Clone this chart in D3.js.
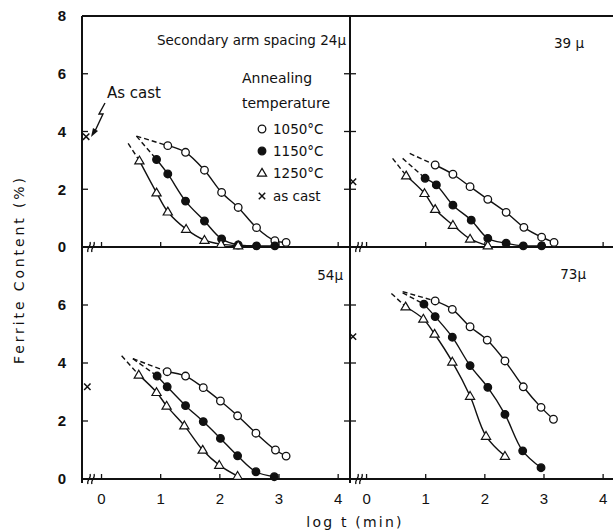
<!DOCTYPE html>
<html>
<head>
<meta charset="utf-8">
<script src="https://cdn.jsdelivr.net/npm/d3@7"></script>
<style>
  body { margin: 0; background: #fff; }
  text { font-family: "DejaVu Sans", sans-serif; fill: #111; }
  text.num { font-family: "Liberation Sans", Arial, sans-serif; }
</style>
</head>
<body>
<div id="chart"></div>
<script>
// tick labels
const xTicks = [0, 1, 2, 3, 4];
const yTicks = [0, 2, 4, 6, 8];

// panel labels (secondary arm spacing)
const panelLabels = ["Secondary arm spacing 24\u03bc", "39 \u03bc", "54\u03bc", "73\u03bc"];

// legend
const legendNames = ["1050\u00b0C", "1150\u00b0C", "1250\u00b0C", "as cast"];

// [log t, ferrite %]
const s24_1050 = [[1.12, 3.51], [1.42, 3.28], [1.74, 2.66], [2.03, 1.89], [2.31, 1.37], [2.62, 0.67], [2.93, 0.22], [3.12, 0.16]];
const s24_1150 = [[0.93, 3.03], [1.12, 2.53], [1.42, 1.59], [1.74, 0.90], [2.03, 0.28], [2.31, 0.07], [2.62, 0.04], [2.93, 0.04]];
const s24_1250 = [[0.64, 2.99], [0.93, 1.88], [1.12, 1.22], [1.43, 0.62], [1.74, 0.24], [2.02, 0.10], [2.31, 0.05]];
const s24_start = [[0.59, 3.84], [0.59, 3.84], [0.45, 3.59]];
const s24_cast = [-0.26, 3.82];

const s39_1050 = [[1.16, 2.84], [1.46, 2.52], [1.75, 2.09], [2.05, 1.65], [2.36, 1.20], [2.66, 0.68], [2.96, 0.34], [3.17, 0.16]];
const s39_1150 = [[0.99, 2.38], [1.18, 2.15], [1.46, 1.45], [1.77, 0.93], [2.05, 0.30], [2.36, 0.13], [2.65, 0.04], [2.96, 0.04]];
const s39_1250 = [[0.67, 2.47], [0.98, 1.86], [1.16, 1.31], [1.46, 0.76], [1.75, 0.28], [2.05, 0.05]];
const s39_start = [[0.73, 3.24], [0.61, 3.07], [0.44, 3.07]];
const s39_cast = [-0.23, 2.26];

const s54_1050 = [[1.11, 3.70], [1.42, 3.55], [1.72, 3.15], [2.01, 2.69], [2.30, 2.18], [2.61, 1.58], [2.94, 1.00], [3.12, 0.79]];
const s54_1150 = [[0.94, 3.55], [1.11, 3.18], [1.42, 2.53], [1.72, 1.98], [2.01, 1.40], [2.30, 0.80], [2.61, 0.25], [2.92, 0.08]];
const s54_1250 = [[0.63, 3.59], [0.93, 2.99], [1.10, 2.52], [1.40, 1.84], [1.71, 1.00], [1.99, 0.48], [2.30, 0.10]];
const s54_start = [[0.53, 4.15], [0.53, 4.15], [0.34, 4.25]];
const s54_cast = [-0.24, 3.18];

const s73_1050 = [[1.16, 6.14], [1.45, 5.85], [1.75, 5.25], [2.04, 4.79], [2.34, 4.07], [2.65, 3.18], [2.95, 2.47], [3.16, 2.06]];
const s73_1150 = [[0.97, 6.03], [1.16, 5.60], [1.45, 4.89], [1.75, 3.91], [2.05, 3.16], [2.34, 2.23], [2.64, 0.97], [2.95, 0.39]];
const s73_1250 = [[0.66, 5.94], [0.96, 5.52], [1.15, 5.00], [1.45, 4.04], [1.75, 2.86], [2.02, 1.48], [2.34, 0.79]];
const s73_start = [[0.61, 6.46], [0.61, 6.42], [0.42, 6.40]];
const s73_cast = [-0.23, 4.91];

const width = 613, height = 532;
const svg = d3.select("#chart").append("svg")
  .attr("width", width)
  .attr("height", height);

const xLeft = d3.scaleLinear().domain([-0.33, 4.2]).range([82, 350]);
const xRight = d3.scaleLinear().domain([-0.28, 4.15]).range([350, 612]);
const yTop = d3.scaleLinear().domain([0, 8]).range([247, 16]);
const yBottom = d3.scaleLinear().domain([0, 8]).range([479, 247]);

const panels = [
  { x: xLeft, y: yTop, label: panelLabels[0], series: [s24_1050, s24_1150, s24_1250], start: s24_start, cast: s24_cast, lx: 346, ly: 45 },
  { x: xRight, y: yTop, label: panelLabels[1], series: [s39_1050, s39_1150, s39_1250], start: s39_start, cast: s39_cast, lx: 584, ly: 48 },
  { x: xLeft, y: yBottom, label: panelLabels[2], series: [s54_1050, s54_1150, s54_1250], start: s54_start, cast: s54_cast, lx: 343, ly: 280 },
  { x: xRight, y: yBottom, label: panelLabels[3], series: [s73_1050, s73_1150, s73_1250], start: s73_start, cast: s73_cast, lx: 586, ly: 279 }
];

const ink = "#111";

// frame
const frame = svg.append("g").attr("stroke", ink).attr("stroke-width", 2).attr("fill", "none");
frame.append("line").attr("x1", 82).attr("x2", 82).attr("y1", 16).attr("y2", 483);
frame.append("line").attr("x1", 350).attr("x2", 350).attr("y1", 16).attr("y2", 483);
frame.append("line").attr("x1", 82).attr("x2", 613).attr("y1", 16).attr("y2", 16);
frame.append("line").attr("x1", 82).attr("x2", 613).attr("y1", 247).attr("y2", 247);
frame.append("line").attr("x1", 82).attr("x2", 613).attr("y1", 479).attr("y2", 479);

const ticks = svg.append("g").attr("stroke", ink).attr("stroke-width", 1.3);
// y ticks: left axis inward, divider both sides
[yTop, yBottom].forEach(y => {
  yTicks.slice(1, 4).forEach(v => {
    ticks.append("line").attr("x1", 82).attr("x2", 88).attr("y1", y(v)).attr("y2", y(v));
    ticks.append("line").attr("x1", 344).attr("x2", 356).attr("y1", y(v)).attr("y2", y(v));
  });
});
// x ticks pointing up
panels.forEach(p => {
  const y0 = p.y(0);
  xTicks.forEach(v => {
    ticks.append("line").attr("x1", p.x(v)).attr("x2", p.x(v)).attr("y1", y0).attr("y2", y0 - 5);
  });
  // axis break marks
  const bx = p.x.range()[0] + 6;
  [0, 4].forEach(dx => {
    svg.append("path")
      .attr("d", `M${bx + dx + 2},${y0 - 5} C${bx + dx + 4},${y0 - 2} ${bx + dx - 2},${y0 + 2} ${bx + dx},${y0 + 5}`)
      .attr("fill", "none").attr("stroke", ink).attr("stroke-width", 1.3);
  });
});

// tick labels
[yTop, yBottom].forEach((y, i) => {
  yTicks.forEach(v => {
    if (i === 1 && v === 8) return;
    svg.append("text")
      .attr("class", "num")
      .attr("x", 62).attr("y", y(v))
      .attr("dy", "0.36em")
      .attr("text-anchor", "middle")
      .attr("font-size", 15).attr("font-weight", "bold")
      .text(v);
  });
});
[xLeft, xRight].forEach(x => {
  xTicks.forEach(v => {
    svg.append("text")
      .attr("class", "num")
      .attr("x", x(v)).attr("y", 504)
      .attr("text-anchor", "middle")
      .attr("font-size", 15)
      .text(v);
  });
});

// axis titles
svg.append("text")
  .attr("transform", "translate(24,271) rotate(-90)")
  .attr("text-anchor", "middle")
  .attr("font-size", 14)
  .attr("textLength", 186)
  .attr("lengthAdjust", "spacing")
  .text("Ferrite Content  (%)");
svg.append("text")
  .attr("x", 355).attr("y", 527)
  .attr("text-anchor", "middle")
  .attr("font-size", 14)
  .attr("letter-spacing", 2.2)
  .text("log t (min)");

// markers
function marker(g, kind, cx, cy) {
  if (kind === 0 || kind === 1) {
    g.append("circle").attr("cx", cx).attr("cy", cy).attr("r", 3.8)
      .attr("fill", kind === 0 ? "#fff" : ink)
      .attr("stroke", ink).attr("stroke-width", 1.3);
  } else if (kind === 2) {
    const s = 4.6;
    g.append("path")
      .attr("d", `M${cx},${cy - s} L${cx + s},${cy + s * 0.7} L${cx - s},${cy + s * 0.7} Z`)
      .attr("fill", "#fff").attr("stroke", ink).attr("stroke-width", 1.2);
  } else {
    const s = 3.2;
    g.append("path")
      .attr("d", `M${cx - s},${cy - s} L${cx + s},${cy + s} M${cx - s},${cy + s} L${cx + s},${cy - s}`)
      .attr("stroke", ink).attr("stroke-width", 1.5);
  }
}

panels.forEach(p => {
  const g = svg.append("g");
  const line = d3.line()
    .x(d => p.x(d[0]))
    .y(d => p.y(d[1]))
    .curve(d3.curveCatmullRom.alpha(0.5));

  p.series.forEach((pts, k) => {
    g.append("path")
      .attr("d", d3.line().x(d => p.x(d[0])).y(d => p.y(d[1]))([p.start[k], pts[0]]))
      .attr("fill", "none").attr("stroke", ink).attr("stroke-width", 1.4)
      .attr("stroke-dasharray", "5,3");
    g.append("path")
      .attr("d", line(pts))
      .attr("fill", "none").attr("stroke", ink).attr("stroke-width", 1.4);
  });
  p.series.forEach((pts, k) => {
    pts.forEach(d => marker(g, k, p.x(d[0]), p.y(d[1])));
  });
  marker(g, 3, p.x(p.cast[0]), p.y(p.cast[1]));

  svg.append("text")
    .attr("x", p.lx).attr("y", p.ly)
    .attr("text-anchor", "end")
    .attr("font-size", 13.5)
    .text(p.label);
});

// "As cast" note with zigzag arrow
svg.append("text").attr("x", 107).attr("y", 98).attr("font-size", 15).text("As cast");
svg.append("path")
  .attr("d", "M105,103 L99,114 L103,114 L95,131")
  .attr("fill", "none").attr("stroke", ink).attr("stroke-width", 1.4);
svg.append("path")
  .attr("d", "M91,137 L93,128 L98,131 Z")
  .attr("fill", ink);

// legend
svg.append("text").attr("x", 242).attr("y", 83).attr("font-size", 14).text("Annealing");
svg.append("text").attr("x", 242).attr("y", 108).attr("font-size", 14).text("temperature");
const legendY = [129, 151, 173, 196];
legendNames.forEach((name, k) => {
  marker(svg, k, 262, legendY[k]);
  svg.append("text")
    .attr("x", 273).attr("y", legendY[k])
    .attr("dy", "0.36em")
    .attr("font-size", 13.5)
    .text(name);
});
</script>
</body>
</html>
